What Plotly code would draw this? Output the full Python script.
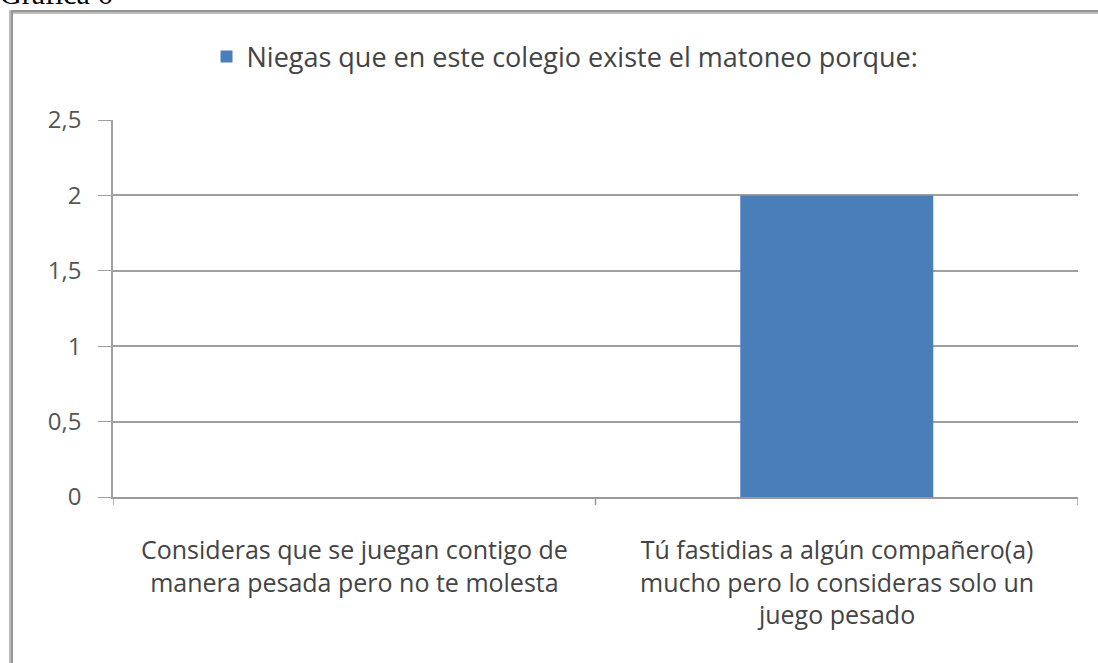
import plotly.graph_objects as go

# Datos de la gráfica
categorias = [
    "Consideras que se juegan contigo de<br>manera pesada pero no te molesta",
    "Tú fastidias a algún compañero(a)<br>mucho pero lo consideras solo un<br>juego pesado",
]
valores = [0, 2]
serie = "Niegas que en este colegio existe el matoneo porque:"
ticks_y = [0, 0.5, 1, 1.5, 2, 2.5]
etiquetas_y = ["0", "0,5", "1", "1,5", "2", "2,5"]

W, H = 1098, 663
ML, MR, MT, MB = 113, 20, 120, 166
PW, PH = W - ML - MR, H - MT - MB


def px(x):
    return (x - ML) / PW


def py(y):
    return 1 - (y - MT) / PH


fig = go.Figure()
fig.add_trace(go.Bar(
    x=[0, 1], y=valores, name=serie, width=0.4,
    marker=dict(color="#4a7ebb", line=dict(width=0)),
    showlegend=True,
))

fig.update_layout(
    width=W, height=H,
    margin=dict(l=ML, r=MR, t=MT, b=MB),
    paper_bgcolor="white", plot_bgcolor="white",
    font=dict(family="Open Sans", color="#555555"),
    showlegend=True,
    legend=dict(
        orientation="h", x=px(565), xanchor="center", y=py(57), yanchor="middle",
        font=dict(size=27, color="#444444"), itemwidth=30,
        bgcolor="rgba(0,0,0,0)",
    ),
    bargap=0.6,
)

fig.update_xaxes(
    range=[-0.5, 1.5], tickvals=[], showgrid=False, zeroline=False,
    showline=True, linecolor="#9a9a9a", linewidth=1.5,
)
fig.update_yaxes(
    range=[0, 2.5], tickvals=ticks_y, ticktext=etiquetas_y,
    showgrid=True, gridcolor="#a0a0a0", gridwidth=1.5,
    zeroline=False, showline=True, linecolor="#a0a0a0", linewidth=1.5,
    ticks="outside", ticklen=13, tickcolor="#a0a0a0",
    tickfont=dict(size=24, color="#555555"), ticklabelstandoff=12,
)

# Etiquetas de categoría
for i, c in enumerate(categorias):
    fig.add_annotation(
        x=i, xref="x", y=py(530), yref="paper", yanchor="top",
        text=c, showarrow=False, align="center",
        font=dict(size=25, color="#444444", family="Open Sans"),
    )

# Marcas de separación en el eje de categorías
for xc in [-0.5, 0.5, 1.5]:
    fig.add_shape(type="line", xref="x", yref="paper",
                  x0=xc, x1=xc, y0=0, y1=py(505),
                  line=dict(color="#9a9a9a", width=1.5))

# Marco del área de la gráfica
fig.add_shape(type="rect", xref="paper", yref="paper",
              x0=px(11), x1=px(1110), y0=py(680), y1=py(12),
              line=dict(color="#bcbcbc", width=4), layer="below")
fig.add_shape(type="rect", xref="paper", yref="paper",
              x0=px(12), x1=px(1110), y0=py(680), y1=py(11),
              line=dict(color="#8a8a8a", width=1.5), layer="below")

# Título del documento
fig.add_annotation(
    x=px(-2), xref="paper", y=py(12), yref="paper",
    xanchor="left", yanchor="bottom", text="Gráfica 6", showarrow=False,
    font=dict(family="Liberation Serif", size=30, color="#000000"),
)

fig.write_html("out.html")
